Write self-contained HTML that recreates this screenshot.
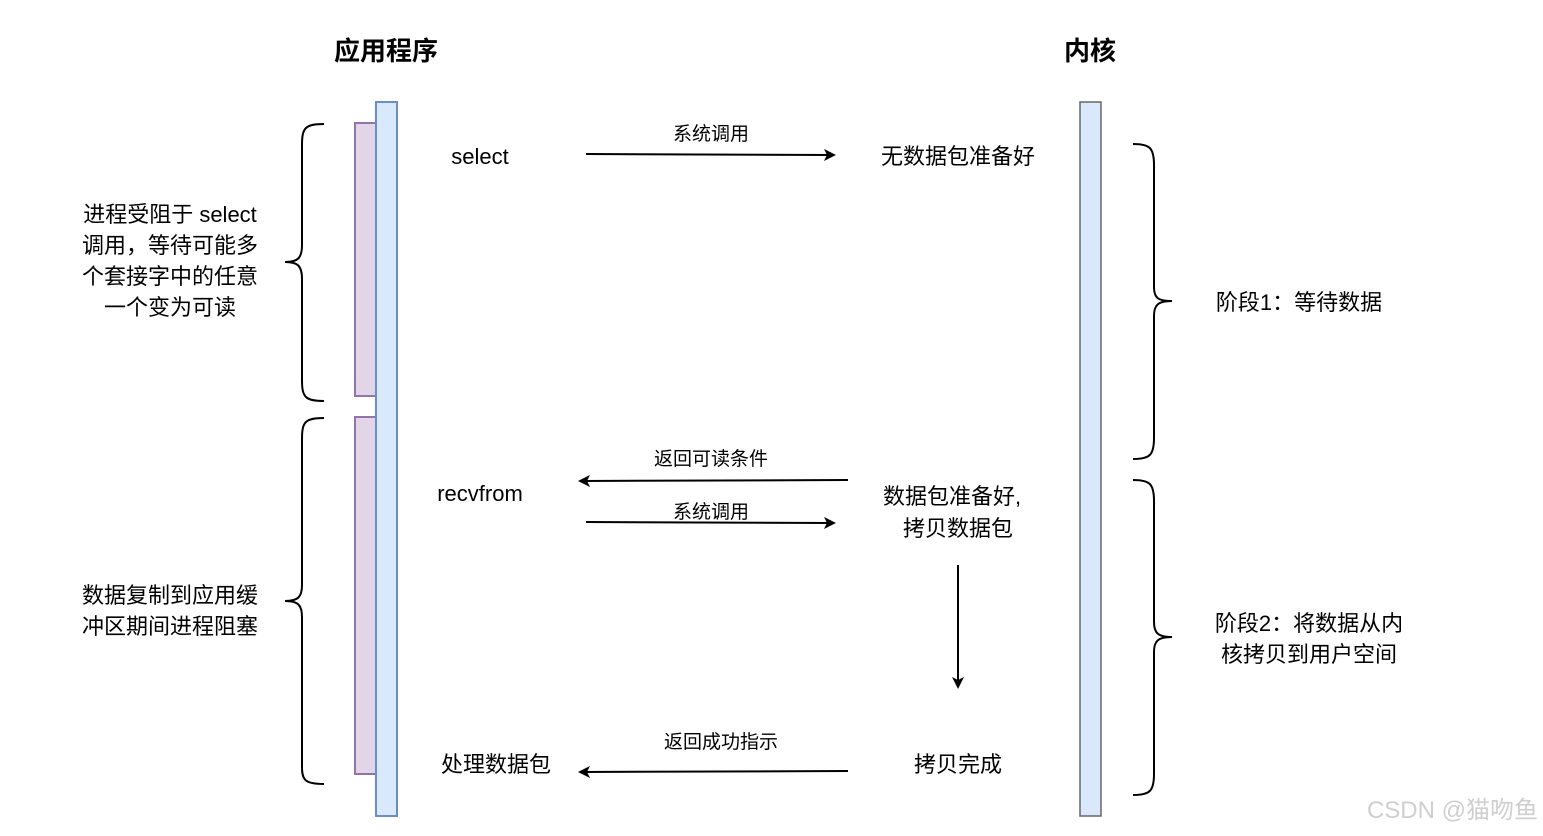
<!DOCTYPE html>
<html><head><meta charset="utf-8"><style>
html,body{margin:0;padding:0;background:#fff;}
svg{display:block;}
text{font-family:"Liberation Sans","Noto Sans CJK SC",sans-serif;fill:#000;}
</style></head><body>
<svg width="1543" height="836" viewBox="0 0 1543 836">
<defs>
<marker id="ah" markerWidth="12" markerHeight="12" refX="10" refY="6" orient="auto" markerUnits="userSpaceOnUse">
<path d="M0,0 L12,6 L0,12 L3,6 Z" fill="#000"/>
</marker>
</defs>
<text x="386" y="60" font-size="26" font-weight="bold" text-anchor="middle">应用程序</text>
<text x="1090" y="60" font-size="26" font-weight="bold" text-anchor="middle">内核</text>

<rect x="355" y="123" width="21" height="273" fill="#e1d5e7" stroke="#9673a6" stroke-width="2"/>
<rect x="355" y="417" width="21" height="357" fill="#e1d5e7" stroke="#9673a6" stroke-width="2"/>
<rect x="376" y="102" width="21" height="714" fill="#dae8fc" stroke="#6c8ebf" stroke-width="2"/>
<rect x="1080" y="102" width="21" height="714" fill="#dae8fc" stroke="#666" stroke-width="1.5"/>

<g fill="none" stroke="#000" stroke-width="2">
<path d="M324,124 C305,124 302,128 302,145 L302,245 C302,258 298,262 285,262 C298,262 302,266 302,279 L302,380 C302,397 305,401 324,401"/>
<path d="M324,418 C305,418 302,422 302,439 L302,585 C302,597 298,601 285,601 C298,601 302,605 302,617 L302,767 C302,780 305,784 324,784"/>
<path d="M1133,144 C1150,144 1154,148 1154,165 L1154,287 C1154,298 1158,301 1172,301 C1158,301 1154,305 1154,316 L1154,438 C1154,455 1150,459 1133,459"/>
<path d="M1133,480 C1150,480 1154,484 1154,501 L1154,622 C1154,633 1158,637 1172,637 C1158,637 1154,641 1154,652 L1154,774 C1154,791 1150,795 1133,795"/>
</g>

<g stroke="#000" stroke-width="2" fill="none">
<line x1="586" y1="154" x2="834" y2="155" marker-end="url(#ah)"/>
<line x1="848" y1="480" x2="580" y2="481" marker-end="url(#ah)"/>
<line x1="586" y1="522" x2="834" y2="523" marker-end="url(#ah)"/>
<line x1="958" y1="565" x2="958" y2="687" marker-end="url(#ah)"/>
<line x1="848" y1="771" x2="580" y2="772" marker-end="url(#ah)"/>
</g>

<g font-size="19" text-anchor="middle">
<text x="711" y="140">系统调用</text>
<text x="711" y="465">返回可读条件</text>
<text x="711" y="518">系统调用</text>
<text x="721" y="748">返回成功指示</text>
</g>

<g font-size="22" text-anchor="middle">
<text x="480" y="164">select</text>
<text x="958" y="164">无数据包准备好</text>
<text x="480" y="501">recvfrom</text>
<text x="952" y="504">数据包准备好,</text>
<text x="958" y="536">拷贝数据包</text>
<text x="496" y="772">处理数据包</text>
<text x="958" y="772">拷贝完成</text>
<text x="170" y="222">进程受阻于 select</text>
<text x="170" y="253">调用，等待可能多</text>
<text x="170" y="284">个套接字中的任意</text>
<text x="170" y="315">一个变为可读</text>
<text x="170" y="603">数据复制到应用缓</text>
<text x="170" y="634">冲区期间进程阻塞</text>
<text x="1299" y="310">阶段1：等待数据</text>
<text x="1309" y="631">阶段2：将数据从内</text>
<text x="1309" y="662">核拷贝到用户空间</text>
</g>
<text x="1538" y="818" font-size="24" text-anchor="end" fill="#ccc" style="fill:#cfcfcf">CSDN @猫吻鱼</text>
</svg>
</body></html>
